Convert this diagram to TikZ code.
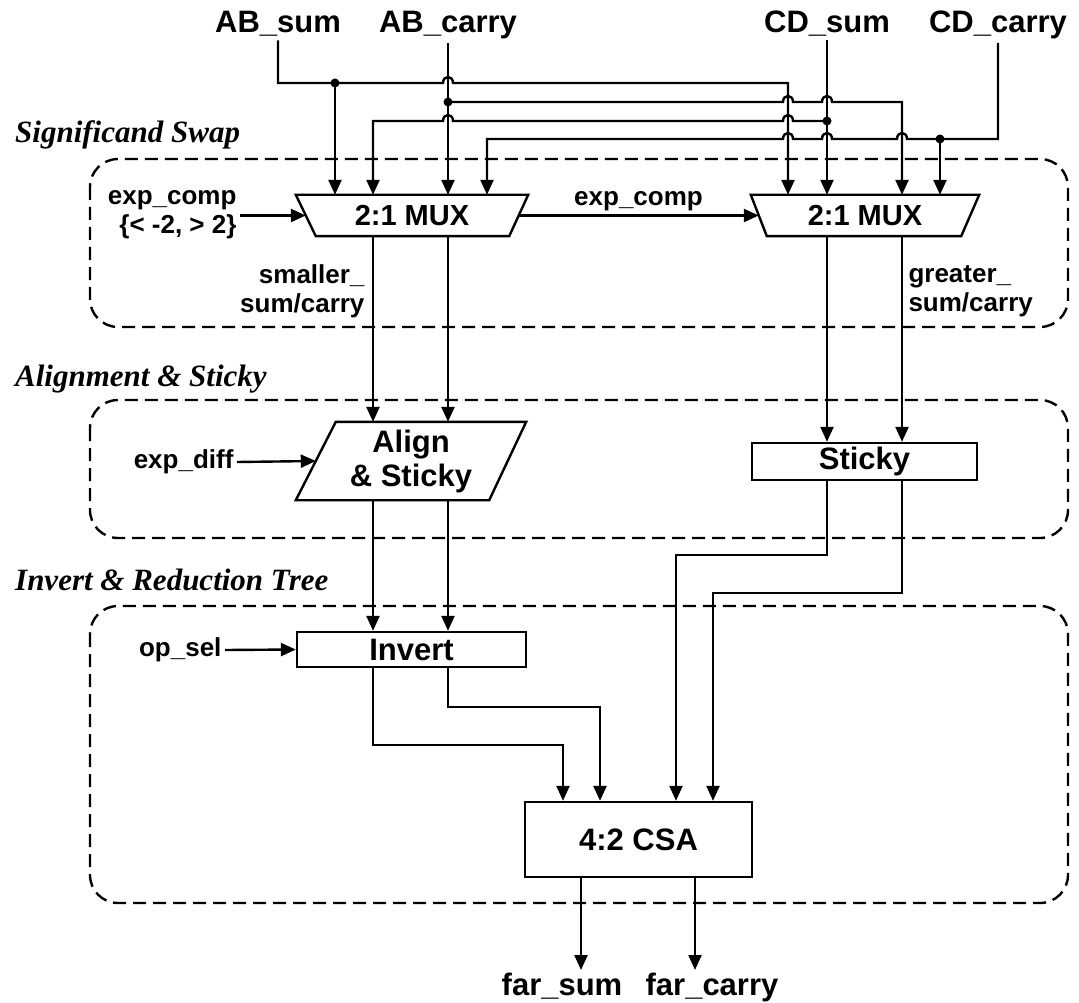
\documentclass[tikz,border=0pt]{standalone}
\usepackage{fontspec}
\setmainfont{Liberation Sans}
\newfontfamily\stagefont{Liberation Serif}
\usetikzlibrary{arrows.meta}

% hop over a crossing wire, left to right / right to left
\newcommand{\hop}[2]{-- ({#1-5},#2) .. controls ({#1-5},{#2-8}) and ({#1+5},{#2-8}) .. ({#1+5},#2)}
\newcommand{\hopback}[2]{-- ({#1+5},#2) .. controls ({#1+5},{#2-8}) and ({#1-5},{#2-8}) .. ({#1-5},#2)}

\tikzset{
  wire/.style={line width=2.4pt},
  arr/.style={wire, -{Triangle[length=15pt,width=13pt]}},
  region/.style={line width=2.4pt, dash pattern=on 13pt off 7pt, rounded corners=28pt},
  blk/.style={line width=2.4pt, inner sep=0pt, font=\fontsize{31}{36}\selectfont\bfseries},
  muxtext/.style={font=\fontsize{29}{34}\selectfont\bfseries},
  sig/.style={font=\fontsize{31}{35}\selectfont\bfseries},
  lbl/.style={font=\fontsize{26}{29}\selectfont\bfseries},
  stage/.style={anchor=base west, inner sep=0pt, font=\fontsize{31}{34}\selectfont\stagefont\bfseries\itshape},
  junction/.style={circle, fill, inner sep=0pt, minimum size=9pt},
}

\begin{document}
\begin{tikzpicture}[x=1pt,y=-1pt]
    \useasboundingbox (0,0) rectangle (1079,1003);

    % stages
    \draw[region] (90,159) rectangle (1068,327);
    \draw[region] (90,400) rectangle (1068,538);
    \draw[region] (90,606) rectangle (1068,903);
    \node[stage] (swap) at (15,143) {Significand Swap};
    \node[stage] (alst) at (15,386) {Alignment \& Sticky};
    \node[stage] (tree) at (15,590) {Invert \& Reduction Tree};

    % inputs
    \node[sig, anchor=base] (absum) at (278,33) {AB\_sum};
    \node[sig, anchor=base] (abcarry) at (448,33) {AB\_carry};
    \node[sig, anchor=base] (cdsum) at (827,33) {CD\_sum};
    \node[sig, anchor=base] (cdcarry) at (998,33) {CD\_carry};

    % blocks
    \node[blk, muxtext, minimum width=230pt, minimum height=39pt] (mux1) at (412,215.5) {2:1 MUX};
    \node[blk, muxtext, minimum width=226pt, minimum height=39pt] (mux2) at (865,215.5) {2:1 MUX};
    \draw[blk] (mux1.north west) -- (mux1.north east) -- ([xshift=-19pt]mux1.south east) -- ([xshift=20pt]mux1.south west) -- cycle;
    \draw[blk] (mux2.north west) -- (mux2.north east) -- ([xshift=-18pt]mux2.south east) -- ([xshift=16pt]mux2.south west) -- cycle;

    \node[blk, minimum width=228pt, minimum height=76pt, align=center] (align) at (411,461) {Align\\[-2pt]\& Sticky};
    \draw[blk] ([xshift=40pt]align.north west) -- (align.north east) -- ([xshift=-37pt]align.south east) -- (align.south west) -- cycle;
    \node[blk, draw, minimum width=225pt, minimum height=37pt] (sticky) at (864.5,461.5) {Sticky};
    \node[blk, draw, minimum width=229pt, minimum height=35pt] (invert) at (411.5,649.5) {Invert};
    \node[blk, draw, minimum width=227pt, minimum height=75pt] (csa) at (638.5,839.5) {4:2 CSA};

    % side labels
    \node[lbl, anchor=east, align=right] (expcomp) at (240,215) {exp\_comp\\\{< -2, > 2\}};
    \node[lbl, anchor=east, align=right] (smaller) at (368,291) {smaller\_\\sum/carry};
    \node[lbl, anchor=west, align=left] (greater) at (905,291) {greater\_\\sum/carry};
    \node[lbl, anchor=east] (expdiff) at (237,462) {exp\_diff};
    \node[lbl, anchor=east] (opsel) at (225,650) {op\_sel};

    % outputs
    \node[sig, anchor=base] (farsum) at (562,995) {far\_sum};
    \node[sig, anchor=base] (farcarry) at (712,995) {far\_carry};
    \coordinate (sumend) at (581,970);
    \coordinate (carryend) at (695,970);

    % junctions
    \node[junction] (j1) at (335,83) {};
    \node[junction] (j2) at (448,102) {};
    \node[junction] (j3) at (827,121) {};
    \node[junction] (j4) at (940,139) {};

    % operand swap wiring
    \draw[arr] (absum.south) -- (278,83) \hop{448}{83} -- (788,83) -- (788,0 |- mux2.north);
    \draw[arr] (j1.center) -- (mux1.north -| j1);
    \draw[arr] (abcarry.south) -- (mux1.north -| abcarry);
    \draw[arr] (j2.center) \hop{788}{102} \hop{827}{102} -- (902,102) -- (902,0 |- mux2.north);
    \draw[arr] (cdsum.south) -- (mux2.north -| cdsum);
    \draw[arr] (j3.center) \hopback{788}{121} \hopback{448}{121} -- (373,121) -- (373,0 |- mux1.north);
    \draw[arr] (cdcarry.south) -- (998,139) \hopback{902}{139} \hopback{827}{139} \hopback{788}{139} -- (487,139) -- (487,0 |- mux1.north);
    \draw[arr] (j4.center) -- (mux2.north -| j4);

    \draw[arr] (expcomp.east |- mux1.west) -- ([xshift=10pt]mux1.west);
    \draw[arr] ([xshift=-10pt]mux1.east) -- node[lbl, above=0pt] (expmid) {exp\_comp} ([xshift=8pt]mux2.west);

    % swap to align / sticky
    \draw[arr] (373,0 |- mux1.south) -- (373,0 |- align.north);
    \draw[arr] (448,0 |- mux1.south) -- (448,0 |- align.north);
    \draw[arr] (827,0 |- mux2.south) -- (827,0 |- sticky.north);
    \draw[arr] (902,0 |- mux2.south) -- (902,0 |- sticky.north);
    \draw[arr] (expdiff.east) -- ([xshift=20pt]align.west);

    % align to invert
    \draw[arr] (373,0 |- align.south) -- (373,0 |- invert.north);
    \draw[arr] (448,0 |- align.south) -- (448,0 |- invert.north);
    \draw[arr] (opsel.east) -- (invert.west);

    % into the csa
    \draw[arr] (373,0 |- invert.south) -- (373,745) -- (563,745) -- (563,0 |- csa.north);
    \draw[arr] (448,0 |- invert.south) -- (448,707) -- (600,707) -- (600,0 |- csa.north);
    \draw[arr] (827,0 |- sticky.south) -- (827,555) -- (676,555) -- (676,0 |- csa.north);
    \draw[arr] (902,0 |- sticky.south) -- (902,593) -- (713,593) -- (713,0 |- csa.north);

    \draw[arr] (csa.south -| sumend) -- (sumend);
    \draw[arr] (csa.south -| carryend) -- (carryend);
\end{tikzpicture}
\end{document}
